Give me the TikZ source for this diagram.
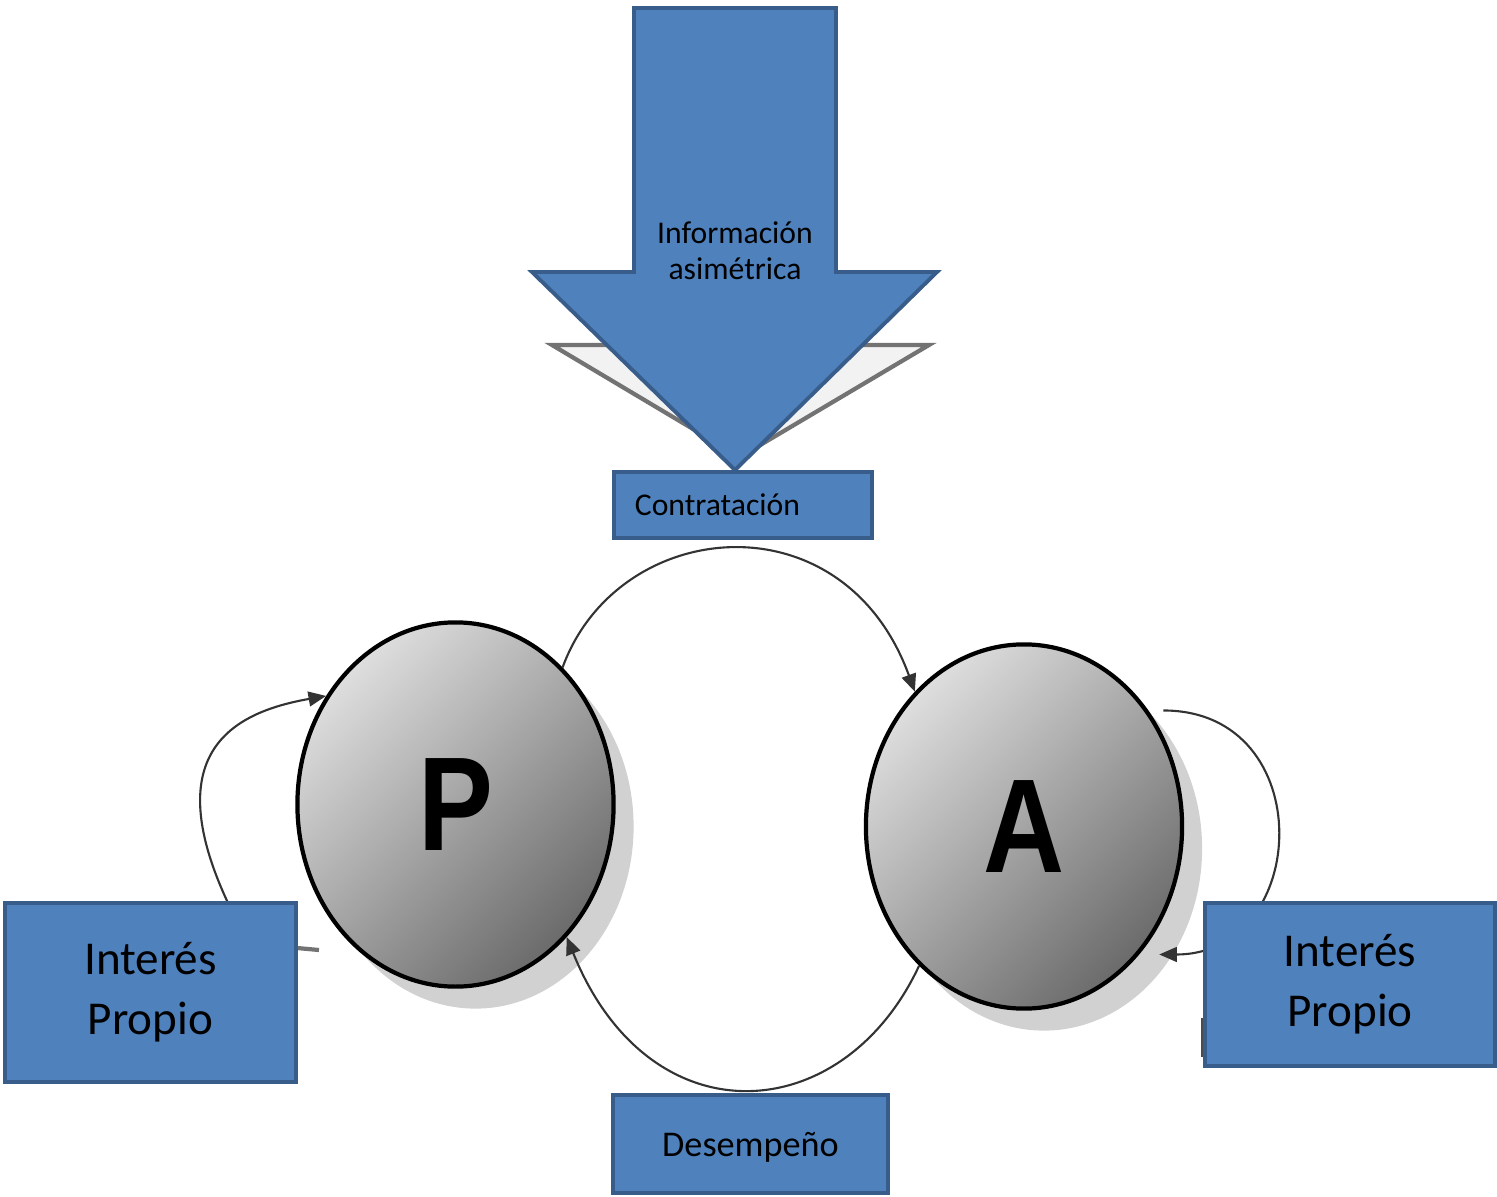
\documentclass[tikz,border=0pt]{standalone}
\usepackage{fontspec}
\setmainfont{Carlito}
\newfontfamily\letterfont{Liberation Sans}
\usepackage{tikz}
\usetikzlibrary{shapes.geometric, arrows.meta, shadows, calc}
\definecolor{boxblue}{HTML}{4F81BD}
\definecolor{boxedge}{HTML}{385D8A}
\newcommand{\agentletter}[1]{\scalebox{0.84}[1]{#1}}

\tikzset{
	bluebox/.style={rectangle, draw=boxedge, fill=boxblue, line width=1.1pt, inner sep=0pt, align=center},
	agent/.style={ellipse, draw=black, line width=1.2pt, inner sep=0pt, minimum width=3.16cm, minimum height=3.64cm,
		top color=black!13, bottom color=black!58, shading angle=45,
		drop shadow={shadow xshift=0.2cm, shadow yshift=-0.22cm, fill=black!18, opacity=1},
		font=\letterfont\bfseries\fontsize{38}{38}\selectfont},
	link/.style={draw=black!80, line width=0.6pt, -{Triangle[length=5pt,width=4.2pt]}},
	smalltext/.style={font=\fontsize{9}{10.3}\selectfont},
	bigtext/.style={font=\fontsize{13.4}{17}\selectfont}
}

\begin{document}
\begin{tikzpicture}[x=0.01cm, y=0.01cm]
	\useasboundingbox (0,0) rectangle (1497,-1197);
	
	\draw[black!55, line width=1.2pt, fill=black!5] (552,-345) -- (929,-345) -- (740,-457) -- cycle;
	
	\draw[boxedge, fill=boxblue, line width=1.1pt] (634,-8) -- (836,-8) -- (836,-272) -- (937,-272) -- (735,-470) -- (532,-272) -- (634,-272) -- cycle;
	\node[smalltext, align=center, inner sep=0pt] (info) at (735,-251) {Información\\asimétrica};
	
	\node[bluebox, smalltext, minimum width=2.58cm, minimum height=0.66cm, inner xsep=0.21cm, text width=2.16cm, align=left] (contr) at (743,-505) {Contratación};
	
	\node[agent] (P) at (455.5,-804.5) {\agentletter{P}};
	\node[agent] (A) at (1024,-826.5) {\agentletter{A}};
	
	\coordinate (ipstart) at (228,-903);
	
	\draw[link] (P.52) to[out=70, in=110, out distance=1.6cm, in distance=2.1cm] (A.129);
	\draw[link] (A.233) to[out=245, in=-68, out distance=1.8cm, in distance=2.2cm] (P.310);
	\draw[link] (ipstart) to[out=115, in=190, out distance=1.7cm, in distance=0.9cm] (P.140);
	\draw[link, shorten <=0.15cm, shorten >=0.2cm] (A.43) to[out=0, in=0, looseness=1.8] (A.-48);
	
	\draw[black!55, line width=1.2pt] (297,-948) -- (319,-950);
	\draw[black!70, line width=1pt] (1203,-1018) -- (1203,-1057);
	
	\node[bluebox, bigtext, minimum width=2.91cm, minimum height=1.79cm] (ipl) at (150.5,-992.5) {Interés\\Propio};
	\node[bluebox, bigtext, minimum width=2.90cm, minimum height=1.63cm] (ipr) at (1350,-984.5) {Interés\\Propio};
	\node[bluebox, font=\fontsize{10.3}{12}\selectfont, text depth=0pt, minimum width=2.75cm, minimum height=0.98cm] (desemp) at (750.5,-1144) {Desempeño};
\end{tikzpicture}
\end{document}
